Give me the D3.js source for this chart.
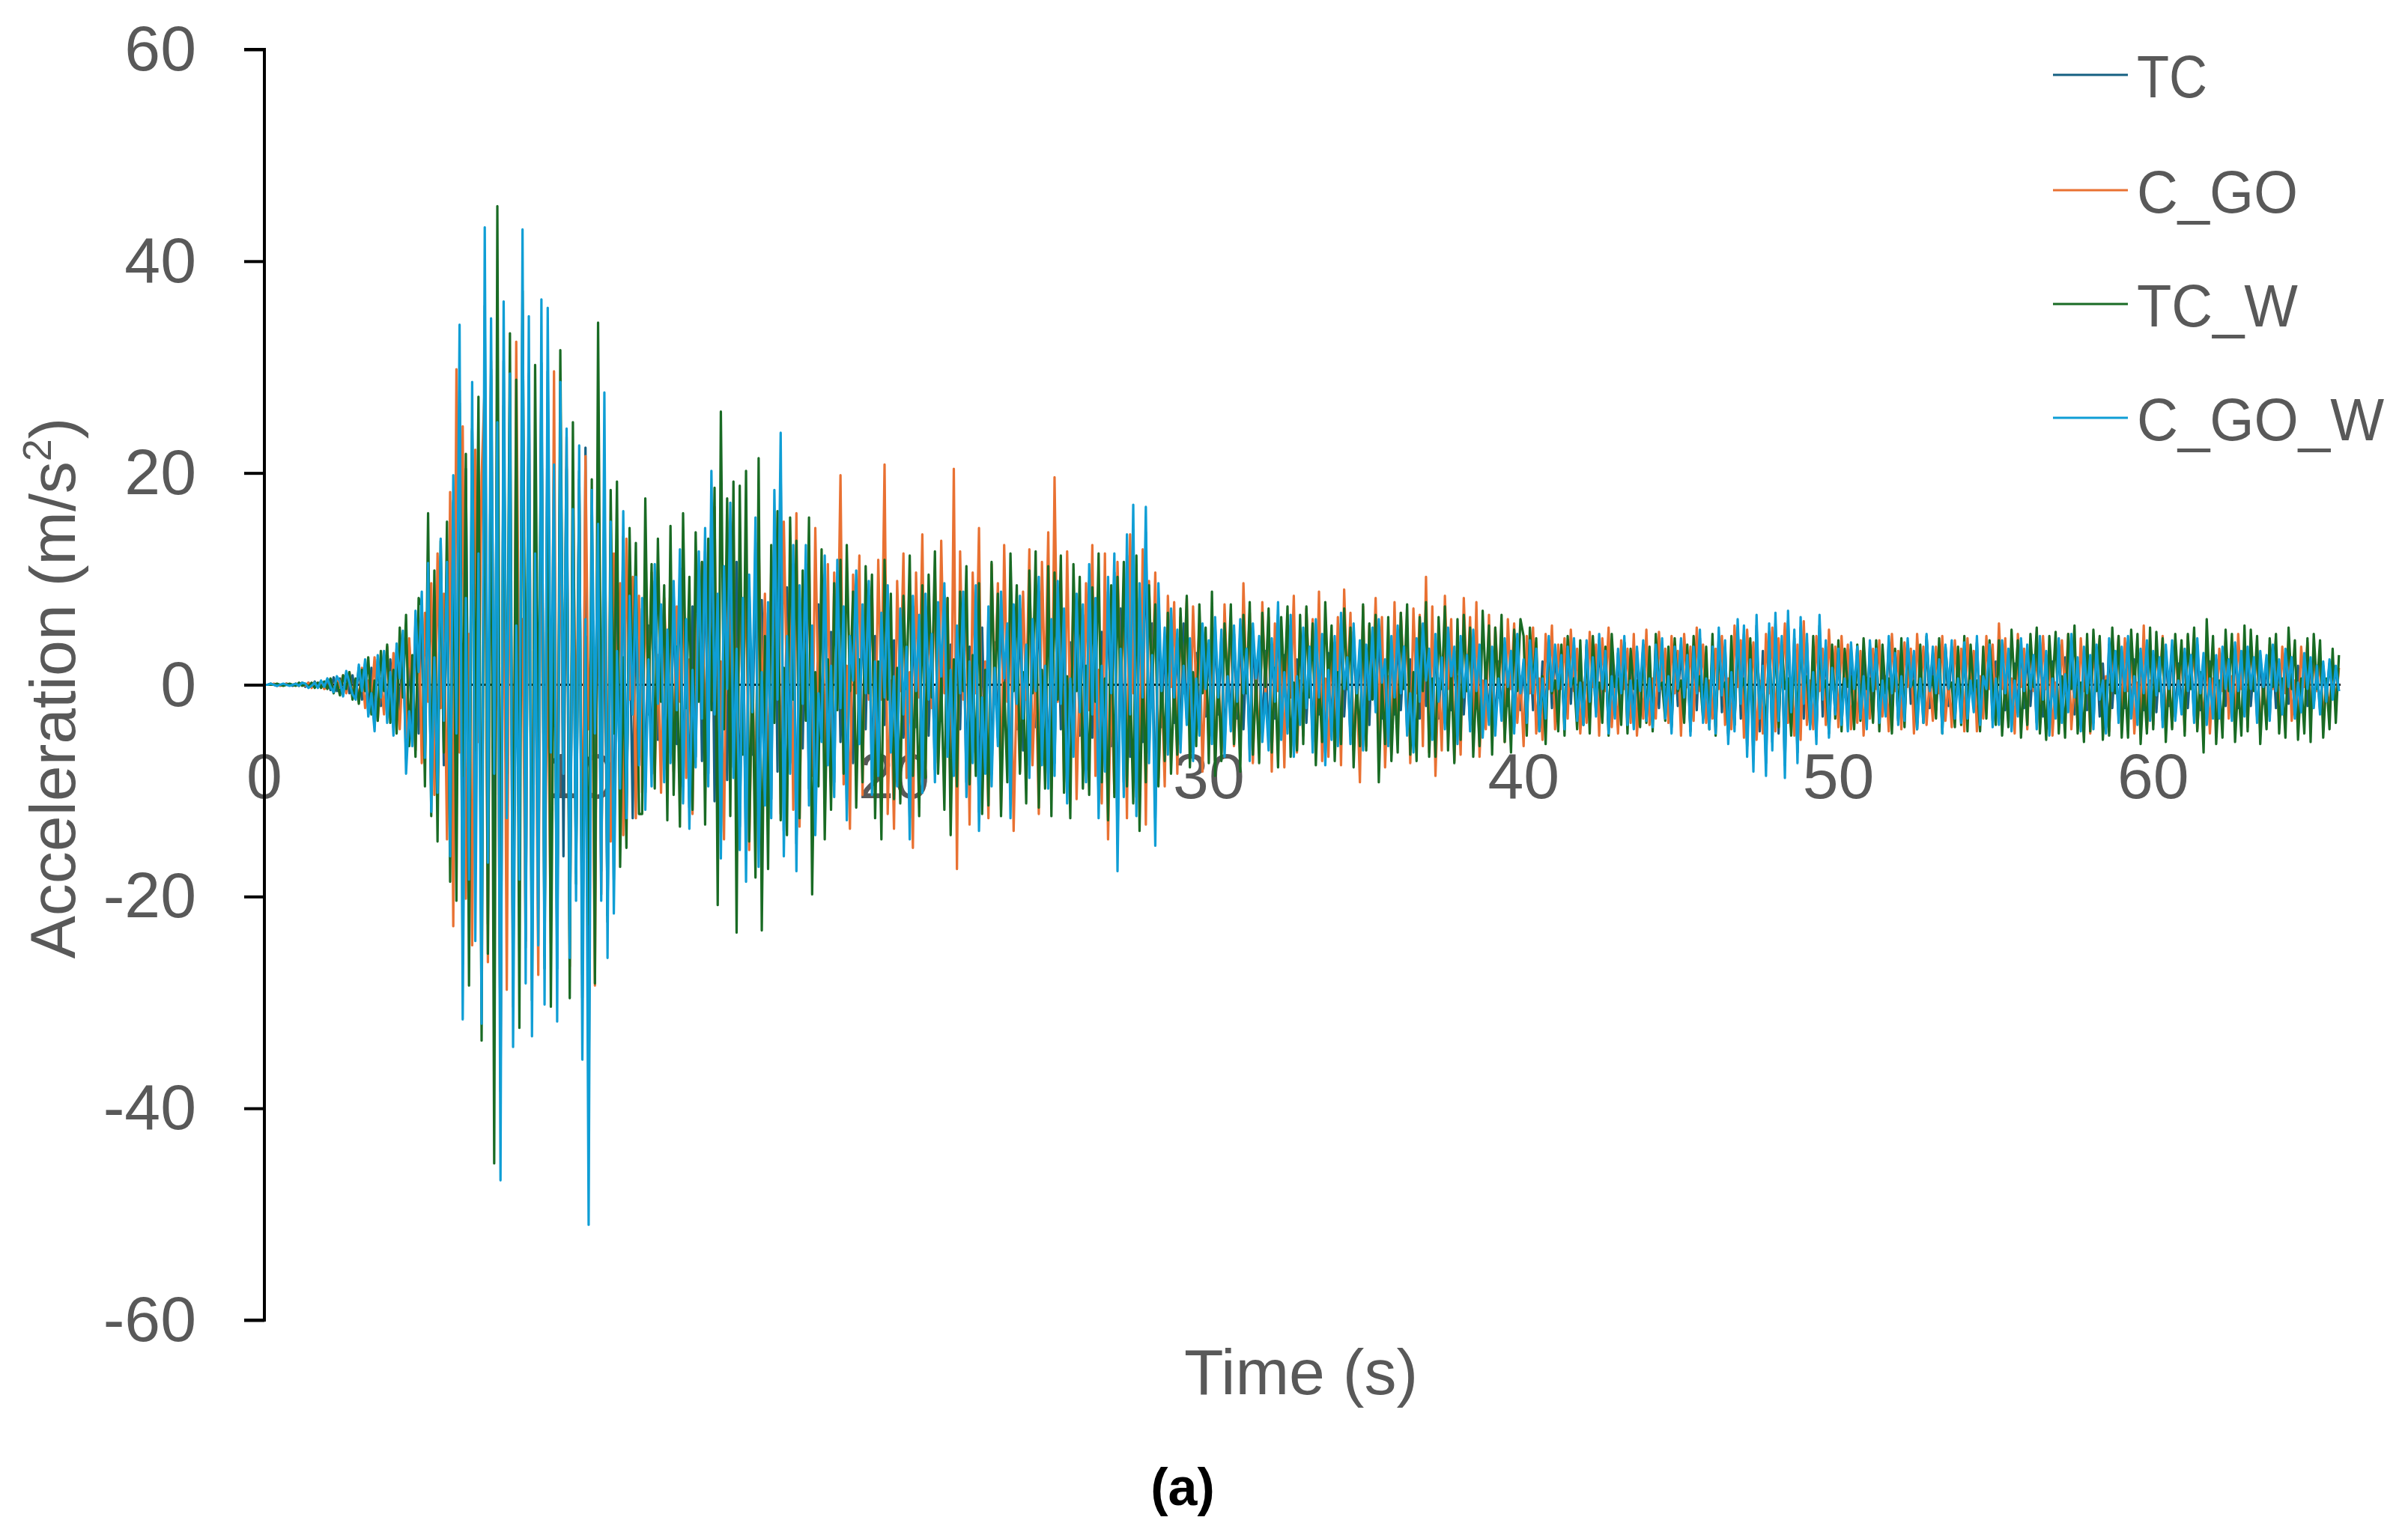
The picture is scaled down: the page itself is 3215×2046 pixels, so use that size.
<!DOCTYPE html>
<meta charset="utf-8" />
<title>Acceleration time histories</title>
<script src="https://d3js.org/d3.v7.min.js"></script>
<style>
  body { margin: 0; background: #fff; }
  text { font-family: "Liberation Sans", Arial, sans-serif; }
</style>
<div id="chart"></div>

<script>
  // Sampled acceleration records (m/s^2), one value every 0.1 s from t = 0,
  // one row per second. Read off the reference figure.
  var sampleStep = 0.1;

  var TC = [
    0,0,0.1,0,-0.1,0,0,0.1,0,-0.1,
    0.1,-0.1,0.2,-0.2,0.2,-0.2,0.3,-0.2,0.3,-0.3,
    0.5,-0.5,0.7,-0.6,0.6,-0.9,1.1,-0.8,0.9,-1.2,
    1.6,-1.4,2.0,-2.6,1.6,-3.6,2.4,-2.0,2.8,-3.0,
    2.4,-4.0,3.4,-2.8,4.4,-7.0,3.8,-5.0,6.0,-4.6,
    7.6,-6.0,10.2,-10.4,6.8,-9.0,12.2,-7.6,10.2,-14.0,
    17.2,-12.0,27.8,-26.4,20.4,-16.2,24.0,-12.6,19.2,-27.0,
    35.8,-22.6,29.2,-18.6,21.4,-38.4,30.6,-19.8,25.2,-28.6,
    22.0,-16.2,35.4,-24.2,29.2,-27.8,19.4,-21.2,30.4,-25.6,
    29.6,-22.4,18.2,-26.8,24.2,-16.2,20.6,-22.0,14.6,-17.8,
    19.4,-29.6,22.4,-41.2,16.0,-21.0,13.4,-17.6,11.0,-21.8,
    13.2,-18.4,9.8,-8.6,14.0,-11.0,7.4,-12.6,8.8,-6.8,
    7.2,-10.2,5.6,-8.4,9.8,-5.2,6.6,-8.0,4.6,-6.4,
    8.4,-5.6,11.0,-9.6,5.4,-11.6,7.4,-6.8,10.8,-7.2,
    12.6,-8.4,17.0,-11.0,7.6,-14.0,9.8,-9.0,14.6,-7.8,
    11.6,-13.4,7.2,-15.8,9.0,-6.6,13.4,-14.6,8.0,-9.8,
    6.8,-10.8,15.6,-8.2,20.0,-13.8,9.2,-7.4,11.4,-15.0,
    8.2,-6.0,11.4,-9.8,5.0,-12.2,7.6,-4.8,10.4,-6.6,
    5.0,-9.2,10.2,-5.4,6.4,-11.0,4.0,-7.4,9.4,-4.8,
    6.6,-4.2,8.4,-9.0,4.6,-7.4,5.8,-3.8,8.2,-5.6,
    4.2,-8.4,6.2,-5.0,3.2,-12.6,7.4,-4.0,5.8,-8.8,
    7.4,-4.8,4.2,-8.0,6.8,-3.4,8.4,-6.0,3.8,-7.4,
    4.8,-4.2,7.6,-9.2,3.6,-6.4,8.2,-12.0,5.4,-7.2,
    6.4,-8.4,4.0,-5.0,7.6,-3.2,5.0,-10.8,6.6,-4.2,
    7.2,-6.2,3.4,-7.6,5.4,-4.0,8.8,-6.6,4.2,-8.4,
    5.4,-7.4,8.4,-4.2,6.2,-9.6,4.0,-5.8,7.4,-4.8,
    6.6,-8.0,9.8,-5.0,7.0,-10.8,5.0,-7.0,8.8,-5.8,
    10.6,-15.0,7.2,-9.2,12.2,-6.8,14.6,-10.6,8.2,-5.4,
    14.4,-6.4,5.8,-12.6,8.2,-4.0,4.6,-5.6,6.2,-3.6,
    4.4,-5.6,5.8,-3.2,3.8,-6.2,3.0,-4.2,5.0,-3.0,
    3.6,-4.8,5.4,-2.8,4.4,-5.8,2.4,-3.8,4.8,-3.2,
    5.2,-4.2,3.0,-6.2,5.0,-2.2,4.0,-4.6,3.2,-5.4,
    3.8,-3.2,6.6,-4.4,2.8,-4.0,5.6,-5.8,2.4,-3.2,
    4.6,-3.6,3.0,-5.4,5.2,-2.8,4.2,-6.4,3.0,-4.4,
    4.0,-5.0,5.8,-3.0,2.2,-4.8,5.0,-2.4,3.6,-5.2,
    3.2,-3.8,4.6,-2.2,5.2,-3.2,2.0,-5.0,4.0,-2.8,
    4.8,-2.4,3.2,-4.2,2.4,-5.4,3.8,-3.2,5.0,-2.0,
    3.0,-4.4,4.2,-3.2,2.2,-3.6,4.6,-2.4,3.2,-4.8,
    4.0,-2.8,2.4,-3.8,4.4,-2.2,3.2,-4.2,2.0,-3.2,
    3.2,-4.0,2.2,-3.0,3.8,-2.0,2.8,-4.0,4.2,-2.4,
    2.0,-3.2,3.6,-2.4,3.0,-3.8,2.2,-2.8,4.0,-2.2,
    3.2,-2.0,2.4,-3.6,3.0,-1.8,3.8,-3.0,1.8,-3.2,
    3.6,-3.2,2.2,-2.6,4.2,-2.0,2.8,-4.0,2.4,-2.8,
    3.0,-2.4,4.0,-3.2,2.0,-3.6,3.2,-2.2,3.6,-3.0,
    2.2,-3.4,3.2,-2.2,3.8,-2.8,2.4,-4.0,3.0,-2.0,
    3.8,-2.8,2.4,-4.2,3.0,-2.4,4.4,-3.0,2.2,-3.6,
    3.0,-4.0,4.6,-2.6,3.6,-4.8,2.8,-3.8,5.4,-3.2,
    4.8,-5.8,3.8,-7.0,5.6,-4.4,3.2,-7.4,5.0,-5.4,
    5.8,-4.6,4.0,-7.6,6.0,-4.0,4.4,-6.4,5.4,-3.2,
    4.0,-3.6,2.8,-4.8,5.6,-3.0,3.6,-4.2,3.0,-2.4,
    3.0,-3.2,2.2,-3.8,3.4,-2.0,3.0,-2.8,2.4,-3.6,
    3.6,-2.2,3.0,-3.0,2.0,-2.6,4.0,-2.4,2.6,-3.2,
    2.4,-3.0,3.8,-1.8,2.8,-3.6,2.2,-3.0,4.2,-2.2,
    3.0,-2.4,2.0,-4.0,3.2,-2.0,3.6,-2.8,2.2,-3.0,
    3.4,-2.8,3.0,-2.2,4.0,-3.2,2.4,-2.0,3.2,-3.4,
    2.2,-3.2,3.6,-2.4,3.0,-3.8,2.0,-2.6,3.8,-2.2,
    3.2,-2.0,2.4,-3.6,4.0,-3.0,2.8,-4.2,2.2,-2.8,
    3.8,-3.0,2.6,-2.2,4.2,-2.8,2.2,-3.8,3.0,-2.4,
    2.4,-3.6,3.2,-3.0,2.0,-4.0,3.8,-2.2,2.8,-3.0,
    3.0,-2.2,4.0,-2.8,2.4,-3.2,3.0,-2.4,3.6,-3.0,
    2.8,-2.6,2.2,-3.4,3.2,-2.0,3.6,-3.0,2.0,-2.4,
    3.0,-2.2,2.4,-3.0,3.8,-2.4,2.6,-3.2,2.2,-2.8,
    2.4,-2.8,3.0,-2.0,2.0,-3.0,3.4,-2.2,2.8,-2.6,
    3.0,-2.0,2.2,-3.0,2.8,-1.8,2.4,-3.0,3.2,-2.2,
    2.0,-2.4,3.0,-1.8,2.2,-2.8,1.8,-2.2,2.6,-2.0,
    2.2,-1.8,1.6,-2.4,1.8,-1.4,2.0,-1.2,1.6,-0.6
  ];

  var C_GO = [
    0,0,0,0.1,0,-0.1,0,0.1,0,0,
    0.1,-0.1,0.2,-0.1,0.2,-0.3,0.2,-0.2,0.3,-0.4,
    -0.2,0.5,-0.6,0.7,-0.2,0.9,-0.8,1.2,-1.0,0.3,
    -1.3,1.6,-2.2,0.4,-1.4,2.6,-3.4,0.6,-2.8,3.6,
    -2.4,3.0,-0.8,-4.2,2.4,-5.0,4.4,-1.2,-6.2,6.0,
    -7.4,6.8,-1.6,9.6,-10.4,12.4,-2.2,8.6,-14.6,18.2,
    -22.8,29.8,-6.4,24.4,-20.2,4.8,-24.6,22.2,-5.4,19.8,
    28.4,-26.2,30.6,-8.2,6.8,-35.2,18.4,-28.8,22.6,-30.4,
    32.4,-4.6,6.2,-24.8,29.4,-20.6,8.6,-27.4,27.2,-22.2,
    4.8,-24.4,29.6,-22.6,20.2,-8.4,23.4,-26.6,19.2,-7.2,
    18.6,-21.4,21.6,-4.2,6.4,-28.4,22.4,-19.8,17.6,-6.2,
    -14.8,12.4,-2.8,9.6,-14.2,13.8,-1.4,10.2,-12.6,8.4,
    -10.2,9.2,-1.6,10.6,-8.4,2.8,-10.2,8.2,-0.6,9.8,
    -8.2,7.4,-1.6,11.2,-8.8,2.4,-12.2,6.6,-0.4,11.6,
    -7.2,12.2,-1.6,16.8,-13.4,2.2,-14.6,13.8,-1.2,15.4,
    -11.6,10.6,-3.2,11.8,-15.6,1.4,-12.4,14.2,-2.8,8.6,
    -10.8,11.2,-1.4,13.6,-12.2,15.4,-0.6,9.8,-11.8,16.2,
    -13.4,8.4,-2.2,12.6,-8.6,14.8,-2.4,9.2,-7.8,11.4,
    -9.6,10.6,-0.2,19.8,-9.4,1.8,-13.6,10.4,-0.8,12.2,
    -10.4,8.6,-1.4,9.2,-7.6,11.8,-1.4,20.8,-12.2,0.4,
    -13.6,9.8,-0.6,12.4,-8.8,1.2,-15.4,10.6,-1.2,14.2,
    -8.6,7.6,-2.2,10.8,-7.4,13.6,-0.8,8.2,-11.6,20.4,
    -17.4,12.6,-1.4,8.4,-13.2,10.6,-0.8,14.8,-10.4,2.2,
    -12.6,11.4,-0.6,9.6,-11.8,13.2,-1.6,7.4,-13.8,0.6,
    -8.2,8.8,-1.4,12.8,-7.6,1.4,-12.2,11.6,-0.8,14.4,
    -9.8,19.6,-1.6,10.2,-9.2,12.6,-3.4,8.6,-10.8,1.4,
    -8.4,9.6,-2.4,13.2,-8.6,1.4,-11.2,12.4,-14.6,0.8,
    -10.2,11.6,-0.4,8.4,-12.6,14.2,-0.8,9.6,-8.6,12.8,
    -13.2,9.8,-1.4,10.6,-8.8,0.6,-9.6,8.4,-0.2,7.8,
    -8.4,6.4,-0.8,8.2,-5.6,7.4,-0.6,5.8,-8.2,1.6,
    -5.4,5.6,-7.2,0.8,-6.4,7.6,-0.6,6.2,-5.8,0.4,
    -6.8,9.6,-0.4,6.8,-7.4,1.2,-6.2,7.8,-0.8,6.4,
    -8.2,5.8,-0.6,4.6,-7.8,6.6,-1.2,8.4,-6.4,0.4,
    -4.8,7.2,-0.8,6.2,-4.6,8.8,-7.2,0.6,-6.8,4.4,
    -5.6,6.4,-7.6,9.0,-0.4,6.8,-6.2,0.2,-9.2,7.4,
    -5.8,5.6,-0.4,8.2,-4.6,6.4,-7.8,0.8,-6.6,7.8,
    -5.2,6.8,-0.2,5.4,-7.4,7.2,-0.8,6.6,-5.8,10.2,
    -6.4,7.4,-8.6,0.6,-6.2,8.4,-0.4,6.2,-7.2,0.8,
    -6.6,8.2,-0.6,6.4,-4.8,7.8,-6.8,0.4,-4.2,6.6,
    -5.2,5.4,-0.2,4.6,-5.4,6.2,-0.4,5.8,-3.6,0.8,
    -5.8,4.6,-0.8,5.4,-4.6,0.6,-5.2,4.8,-0.4,5.6,
    -4.2,3.8,-0.4,4.4,-3.2,5.2,-0.6,3.4,-4.6,0.2,
    -3.6,5.0,-0.2,3.8,-4.8,4.4,-0.6,5.4,-4.0,0.8,
    -4.6,4.2,-0.4,3.4,-3.6,4.8,-4.8,0.2,-3.2,5.2,
    -3.8,0.6,-3.2,5.0,-0.4,3.4,-3.6,4.6,-0.8,3.2,
    -4.8,4.8,-0.2,3.6,-3.4,5.4,-0.6,3.8,-3.6,0.4,
    -3.2,3.4,-0.4,4.6,-3.8,0.6,-4.2,5.6,-0.2,4.2,
    -5.0,5.2,-0.6,4.0,-5.2,0.4,-4.6,4.8,-0.8,5.4,
    -4.4,4.4,-0.2,5.8,-3.6,0.6,-4.8,3.8,-5.2,6.0,
    -3.8,0.4,-4.2,4.6,-0.6,3.4,-3.8,5.2,-0.4,3.6,
    -4.0,4.6,-0.8,3.8,-4.2,0.2,-3.6,3.2,-4.8,0.6,
    -3.2,3.4,-0.4,4.2,-3.0,0.8,-4.4,4.8,-0.6,3.2,
    -4.2,4.0,-0.2,3.4,-4.6,4.8,-0.4,3.6,-3.8,0.6,
    -3.4,3.6,-0.8,4.6,-3.4,0.4,-4.0,4.2,-0.2,3.4,
    -4.4,4.4,-0.6,3.2,-4.4,0.8,-3.2,4.6,-0.4,3.8,
    -3.0,5.8,-0.4,4.4,-3.4,0.6,-4.6,4.8,-0.2,3.4,
    -4.2,3.8,-0.6,3.2,-3.6,4.6,-0.4,3.4,-4.8,0.2,
    -3.4,4.2,-0.8,4.8,-4.2,0.4,-3.6,4.4,-0.6,3.8,
    -4.6,3.6,-0.2,4.4,-3.2,0.8,-4.4,3.2,-0.4,4.6,
    -3.2,4.4,-0.6,3.6,-4.6,0.2,-3.4,5.6,-4.2,0.4,
    -3.8,3.8,-0.4,4.6,-3.6,0.6,-4.0,4.2,-0.8,3.6,
    -4.4,4.6,-0.2,3.8,-4.2,0.4,-3.6,3.2,-4.6,0.6,
    -3.2,3.4,-0.6,4.2,-3.2,0.8,-4.2,4.8,-0.4,3.4,
    -4.0,4.0,-0.2,3.4,-4.4,0.6,-3.6,3.8,-0.4,3.2,
    -3.6,3.6,-0.8,4.2,-3.4,0.4,-4.2,3.6,-0.2,4.0,
    -3.4,3.2,-0.6,2.6,-3.4,0.4,-2.6,2.2,-1.8,1.6
  ];

  var TC_W = [
    0,0,0,0,0.1,0,-0.1,0,0.1,0,
    -0.1,0.2,-0.1,0.1,-0.2,0.2,-0.3,0.2,-0.3,0.3,
    -0.4,0.6,-0.8,0.2,-1.0,0.9,-0.4,1.2,-1.4,0.6,
    -1.8,1.4,-0.6,2.6,-2.8,0.4,-3.4,3.2,-0.6,3.8,
    -3.6,1.4,-4.6,5.4,-1.2,6.6,-5.8,2.8,-6.8,8.2,
    7.4,-9.6,16.2,-12.4,10.8,-14.8,13.6,-6.4,15.4,-18.6,
    17.4,-20.4,26.6,-8.6,21.8,-28.4,24.2,-6.2,27.2,-33.6,
    32.6,-25.4,29.8,-45.2,45.2,-30.6,26.4,-8.4,33.2,-28.2,
    28.8,-32.4,37.2,-6.6,24.8,-29.8,30.2,-8.6,28.4,-26.8,
    26.6,-30.4,10.4,-24.2,31.6,-6.2,20.4,-29.6,24.8,-18.8,
    20.2,-27.4,4.6,-22.6,19.4,-28.2,34.2,-8.4,16.8,-22.4,
    18.4,-4.6,19.2,-17.2,2.6,-15.4,14.8,-1.6,13.4,-12.2,
    -12.2,17.6,-2.8,11.4,-9.8,13.8,-1.6,9.4,-12.8,15.0,
    -10.4,3.6,-13.4,16.2,-2.2,10.2,-11.8,14.4,-1.6,11.6,
    -13.2,13.8,-2.4,18.6,-20.8,25.8,-4.2,17.6,-12.4,19.2,
    -23.4,18.8,-6.6,20.2,-14.8,2.4,-18.2,21.4,-23.2,4.6,
    -17.4,13.2,-3.6,16.4,-12.8,1.6,-14.2,15.8,-1.4,13.6,
    -12.6,10.8,-3.4,15.8,-19.8,1.2,-9.6,12.8,-14.6,2.4,
    -11.8,9.6,-2.4,11.8,-8.4,13.2,-0.6,8.8,-11.6,2.4,
    -9.2,11.2,-0.8,10.4,-12.6,2.2,-14.6,11.8,-1.4,8.6,
    -10.8,1.6,-11.2,8.4,-0.4,12.2,-8.6,1.8,-12.4,9.4,
    -8.8,10.4,-1.2,12.6,-8.4,0.6,-11.8,8.2,-14.2,2.4,
    -9.6,8.8,-0.6,11.2,-9.4,2.8,-8.6,9.6,-12.2,1.4,
    -11.4,11.6,-1.8,8.6,-12.4,0.2,-9.2,12.4,-0.6,9.4,
    -8.4,1.2,-11.2,10.8,-0.8,12.6,-11.6,1.4,-9.8,11.2,
    -12.4,10.6,-1.4,12.2,-10.2,0.8,-12.6,11.4,-0.6,10.2,
    -9.8,1.8,-10.4,9.2,-1.6,12.4,-9.2,0.6,-12.8,9.4,
    -10.6,10.2,-1.4,11.6,-9.6,0.8,-11.2,12.2,-13.8,1.4,
    -9.2,9.4,-0.2,7.6,-9.6,1.6,-7.2,6.8,-8.4,0.2,
    -6.6,7.2,-0.4,8.4,-7.8,1.2,-5.8,7.6,-0.8,5.4,
    -7.4,8.8,-8.6,1.4,-7.2,5.8,-0.4,7.6,-5.6,1.2,
    -8.2,6.6,-0.8,7.8,-6.6,0.4,-7.4,6.8,-0.2,7.2,
    -6.4,1.6,-7.8,6.4,-0.4,7.4,-6.8,0.2,-6.2,6.6,
    -5.6,7.4,-1.2,5.8,-7.6,0.4,-5.4,7.8,-0.6,5.6,
    -7.2,1.2,-5.6,7.2,-0.4,5.4,-7.8,0.6,-5.8,7.6,
    -6.2,5.8,-1.4,6.6,-9.2,0.2,-5.6,6.4,-7.2,0.6,
    -6.4,6.8,-0.4,7.6,-6.6,1.2,-7.2,6.4,-0.6,7.8,
    -6.8,0.6,-6.8,6.4,-0.4,7.4,-6.2,1.8,-7.4,6.2,
    -5.2,6.6,-0.6,5.4,-6.8,0.2,-5.8,7.0,-0.4,5.6,
    -6.6,5.4,-1.2,6.6,-5.4,0.8,-6.4,5.2,-0.6,6.2,
    4.6,-4.8,5.4,-0.2,4.4,-4.4,0.8,-5.6,4.2,-0.8,
    0.4,-4.4,3.8,-4.8,4.6,-0.2,0.6,-4.2,4.2,-3.8,
    3.8,-4.6,4.6,-0.4,0.2,-3.6,3.6,-4.8,4.8,-0.2,
    0.6,-3.8,4.0,-4.6,3.4,-0.4,0.4,-4.0,3.8,-3.6,
    3.6,-4.4,4.8,-0.2,0.2,-3.4,3.6,-3.8,4.4,-0.6,
    0.4,-3.6,3.8,-4.4,4.6,-0.6,0.8,-3.2,3.6,-4.2,
    4.8,-4.8,3.4,-0.4,0.2,-4.6,4.6,-3.8,3.8,-0.4,
    0.6,-4.2,4.4,-4.6,3.4,-0.8,0.2,-4.4,4.2,-3.6,
    4.4,-4.0,3.8,-0.4,0.6,-4.8,3.4,-3.6,4.0,-0.2,
    0.8,-3.8,4.6,-4.2,3.6,-0.6,0.4,-4.6,3.8,-3.2,
    4.2,-4.4,3.4,-0.2,0.8,-4.2,3.8,-3.4,4.4,-0.4,
    0.6,-3.6,4.2,-4.4,3.8,-0.8,0.6,-4.6,3.4,-3.4,
    4.4,-4.0,3.6,-0.2,0.4,-4.2,3.8,-3.6,4.6,-0.4,
    0.8,-3.2,4.4,-4.6,3.6,-0.4,0.2,-4.0,3.6,-3.8,
    4.6,-4.4,3.8,-0.6,0.4,-4.4,3.6,-3.2,4.2,-0.2,
    -3.8,4.2,-4.8,0.6,-4.0,5.2,-0.4,4.2,-5.0,0.8,
    -3.8,4.8,-0.2,5.4,-4.6,0.6,-5.2,4.6,-0.4,5.0,
    -4.6,0.8,-5.0,4.8,-0.4,5.6,-4.6,0.2,-5.4,4.8,
    -4.4,5.2,-0.6,4.6,-5.2,0.4,-4.8,5.4,-0.8,4.6,
    -5.0,0.6,-5.0,5.2,-0.4,4.8,-5.6,0.2,-4.6,5.4,
    -4.2,5.0,-0.6,4.4,-5.4,0.8,-4.2,4.8,-0.2,4.2,
    -4.8,4.8,-0.4,5.4,-4.4,1.2,-6.4,6.2,-0.8,4.6,
    -5.6,0.4,-5.0,5.2,-0.6,4.8,-5.4,0.2,-4.8,5.6,
    -4.4,5.2,-0.6,4.6,-5.6,0.4,-4.2,4.4,-0.2,4.8,
    -4.6,0.6,-5.0,5.4,-0.4,4.2,-5.2,0.6,-4.6,4.4,
    -5.4,4.8,-0.4,4.2,-5.0,0.6,-4.2,3.4,-3.6,2.8
  ];

  var C_GO_W = [
    0,0,0.1,0,-0.1,0,0.1,0,-0.1,0,
    0.1,-0.1,0.2,0.1,-0.3,-0.1,0.2,-0.3,0.4,-0.2,
    0.6,-0.2,-0.7,0.8,0.3,-1.1,1.3,0.2,-0.9,-1.4,
    1.9,-0.6,2.4,-3.0,-0.8,-4.4,2.8,-1.2,3.2,-3.6,
    1.2,-4.8,3.9,0.6,5.1,-8.4,-2.5,-5.8,7.0,1.2,
    8.8,-6.9,11.5,-12.0,2.6,-10.2,13.8,-3.4,11.6,-16.2,
    19.8,-4.6,34.0,-31.6,8.2,-18.4,28.6,-24.2,12.4,-32.0,
    43.2,-16.8,34.6,-8.4,24.8,-46.8,36.2,-12.6,29.4,-34.2,
    5.6,-18.4,43.0,-28.2,34.8,-33.2,12.4,-24.6,36.4,-30.2,
    35.6,-6.4,20.8,-31.8,28.6,-8.4,24.2,-25.8,16.6,-20.4,
    22.6,-35.4,6.2,-51.0,18.4,-4.6,15.2,-20.4,27.6,-25.8,
    15.4,-21.6,3.2,-9.8,16.4,-12.6,8.4,-2.8,10.2,-7.6,
    8.2,-11.8,2.4,-9.6,11.4,-1.8,7.6,-9.2,5.2,-7.4,
    9.8,-2.4,12.8,-11.2,6.2,-13.6,1.4,-7.8,12.6,-3.2,
    14.8,-9.6,20.2,-2.8,8.6,-16.4,11.2,-0.4,17.2,-8.8,
    3.4,-15.6,8.2,-18.6,10.4,-2.6,15.8,-17.2,1.2,-11.4,
    7.8,-12.6,18.4,-1.4,23.8,-16.2,4.6,-8.4,13.2,-17.6,
    9.4,-1.8,13.2,-11.4,5.6,-14.2,-0.8,-5.4,12.2,-7.6,
    1.8,-10.6,11.8,-2.2,7.4,-12.8,4.6,0.4,10.8,-5.6,
    7.6,-0.8,9.8,-10.4,2.2,-8.6,6.8,-1.2,9.4,-6.4,
    0.8,-9.6,7.2,-2.8,3.6,-14.6,8.4,-0.6,6.6,-10.2,
    8.6,-1.4,4.8,-9.2,7.8,0.8,9.6,-6.8,1.4,-8.6,
    5.6,-0.8,8.8,-10.6,2.2,-7.4,9.4,-13.8,-1.2,-8.4,
    7.4,-9.6,1.6,-5.8,8.8,0.6,5.8,-12.6,7.6,-1.8,
    8.4,-3.2,3.8,-8.8,6.2,-0.6,10.2,-7.6,1.8,-9.8,
    6.2,-8.6,9.8,-1.8,7.2,-11.2,0.6,-6.8,8.6,-2.6,
    7.6,-9.2,11.4,-2.8,8.2,-12.6,1.8,-8.2,10.2,-0.8,
    12.4,-17.6,3.4,-10.6,14.2,-2.8,17.0,-12.4,9.6,-1.2,
    16.8,-7.4,2.8,-15.2,9.6,-0.6,5.4,-6.6,7.2,-1.2,
    5.2,-6.4,1.8,-3.8,4.4,-7.2,0.6,-4.8,5.8,-0.4,
    4.2,-5.6,6.4,-1.2,5.2,-6.8,0.8,-4.4,5.6,-1.6,
    6.2,-0.8,3.4,-7.2,5.8,0.6,4.6,-5.4,-0.8,-6.2,
    4.4,-1.6,7.8,-5.2,1.2,-4.6,6.6,-6.8,0.8,-3.8,
    5.4,-2.2,3.6,-6.4,6.2,-1.2,4.8,-7.6,1.4,-5.2,
    4.6,-5.8,6.8,-0.4,2.6,-5.6,5.8,-0.8,4.2,-6.2,
    3.8,-1.4,5.4,-2.6,6.2,0.2,2.4,-5.8,4.6,-1.2,
    5.6,-0.8,3.6,-4.8,-0.8,-6.4,4.4,-1.6,5.8,0.4,
    3.4,-5.2,4.8,-1.6,2.6,-4.2,5.4,0.8,3.6,-5.6,
    4.6,-1.2,2.8,-4.4,5.2,-0.6,3.8,-5.0,0.4,-3.8,
    3.6,-4.8,0.6,-3.4,4.4,-0.2,3.2,-4.6,4.8,-0.8,
    2.4,-3.6,4.2,-0.8,3.4,-4.4,0.6,-3.2,4.6,-0.6,
    3.8,-0.4,2.8,-4.2,3.6,-0.2,4.4,-3.4,0.2,-3.8,
    4.2,-1.6,2.6,-3.0,4.8,-0.4,3.2,-4.6,0.8,-3.2,
    3.4,-0.8,4.6,-3.8,0.4,-4.2,3.6,-0.6,4.2,-3.4,
    0.6,-4.0,3.8,-0.6,4.4,-3.2,0.8,-4.6,3.6,-0.4,
    4.4,-1.2,2.8,-4.8,3.6,-0.8,5.2,-3.6,0.6,-4.2,
    3.6,-4.6,5.4,-1.0,4.2,-5.6,1.2,-4.4,6.2,-1.8,
    5.6,-6.8,2.4,-8.2,6.6,-3.2,1.8,-8.6,5.8,-6.2,
    6.8,-3.4,4.6,-8.8,7.0,-2.6,5.2,-7.4,6.4,-1.8,
    4.8,-4.2,1.2,-5.6,6.6,-1.4,4.2,-5.0,1.6,-2.8,
    3.4,-3.8,0.6,-4.4,4.0,-0.4,3.6,-3.2,0.8,-4.2,
    4.2,-0.6,3.4,-3.6,0.4,-3.0,4.6,-0.8,3.0,-3.8,
    0.8,-3.4,4.4,-0.2,3.2,-4.2,0.6,-3.6,4.8,-0.6,
    3.6,-0.8,2.4,-4.6,3.8,-0.4,4.2,-3.2,0.6,-3.6,
    4.0,-3.2,0.4,-2.6,4.6,-3.8,0.8,-0.4,3.8,-4.0,
    0.6,-3.8,4.2,-0.8,3.4,-4.4,0.4,-3.0,4.4,-0.6,
    3.8,-0.4,2.8,-4.2,4.6,-1.4,3.2,-4.8,0.6,-3.2,
    4.4,-3.6,1.0,-2.6,4.8,-1.2,2.6,-4.4,3.6,-0.8,
    2.8,-4.2,3.8,-1.4,0.4,-4.6,4.4,-0.6,3.2,-3.6,
    3.6,-0.6,4.6,-3.2,0.8,-3.8,3.4,-0.8,4.2,-3.4,
    3.2,-1.0,2.6,-4.0,3.8,-0.4,4.2,-3.4,0.4,-2.8,
    3.4,-0.6,2.8,-3.6,4.4,-0.8,3.0,-3.8,0.6,-3.2,
    2.8,-3.2,3.6,-0.4,2.4,-3.4,4.0,-0.6,3.2,-3.0,
    3.6,-0.4,2.6,-3.6,3.2,-0.2,2.8,-3.4,3.8,-0.6,
    2.4,-2.8,3.4,-0.2,2.6,-3.2,0.2,-2.6,3.0,-0.4,
    2.6,-2.2,1.8,-2.8,2.2,-1.6,2.4,-1.4,1.8,-0.6
  ];

  var seriesNames  = ['TC', 'C_GO', 'TC_W', 'C_GO_W'];
  var seriesValues = [TC, C_GO, TC_W, C_GO_W];
  var seriesColors = ['#156082', '#E97132', '#196B24', '#0F9ED5'];
  var yTicks = [60, 40, 20, 0, -20, -40, -60];
  var xTicks = [0, 10, 20, 30, 40, 50, 60];

  var W = 3215, H = 2046;
  var textGrey = '#595959';

  var svg = d3.select('#chart').append('svg')
    .attr('width', W)
    .attr('height', H);

  var x = d3.scaleLinear().domain([0, 66]).range([353, 3127]);
  var y = d3.scaleLinear().domain([-60, 60]).range([1763, 66]);

  // x axis line sits at zero, behind the traces
  svg.append('line')
    .attr('x1', x(0)).attr('x2', x(65.95))
    .attr('y1', y(0)).attr('y2', y(0))
    .attr('stroke', '#000').attr('stroke-width', 3);

  // x tick labels, hanging below the zero line
  svg.append('g').selectAll('text')
    .data(xTicks).enter().append('text')
    .attr('x', function(d) { return x(d); })
    .attr('y', y(0) + 151)
    .attr('text-anchor', 'middle')
    .attr('font-size', 86)
    .attr('fill', textGrey)
    .text(function(d) { return d; });

  // the traces, first series at the bottom
  var line = d3.line()
    .x(function(d, i) { return x(i * sampleStep); })
    .y(function(d) { return y(d); });

  svg.append('g').selectAll('path')
    .data(seriesValues).enter().append('path')
    .attr('d', function(d) { return line(d); })
    .attr('fill', 'none')
    .attr('stroke', function(d, i) { return seriesColors[i]; })
    .attr('stroke-width', 3.2)
    .attr('stroke-linejoin', 'round');

  // y axis with outward ticks, plain hyphen for negatives
  var yAxis = svg.append('g')
    .attr('transform', 'translate(' + x(0) + ',0)')
    .call(d3.axisLeft(y).tickValues(yTicks).tickSize(27).tickPadding(64)
      .tickFormat(function(d) { return String(d); }));
  yAxis.select('.domain').attr('stroke', '#000').attr('stroke-width', 4)
    .attr('d', 'M-27,' + y(60) + 'H0V' + y(-60) + 'H-27');
  yAxis.selectAll('.tick line').attr('stroke', '#000').attr('stroke-width', 4);
  yAxis.selectAll('.tick text')
    .attr('font-family', '"Liberation Sans", Arial, sans-serif')
    .attr('font-size', 86)
    .attr('fill', textGrey);

  // axis titles
  var yTitle = svg.append('text')
    .attr('transform', 'translate(100,919) rotate(-90)')
    .attr('text-anchor', 'middle')
    .attr('font-size', 86)
    .attr('fill', textGrey);
  yTitle.append('tspan').text('Acceleration (m/s');
  yTitle.append('tspan').attr('font-size', 54).attr('dy', -32).text('2');
  yTitle.append('tspan').attr('dy', 32).text(')');

  svg.append('text')
    .attr('x', 1737).attr('y', 1862)
    .attr('text-anchor', 'middle')
    .attr('font-size', 86)
    .attr('fill', textGrey)
    .text('Time (s)');

  svg.append('text')
    .attr('x', 1579).attr('y', 2010)
    .attr('text-anchor', 'middle')
    .attr('font-family', '"Liberation Serif", "Times New Roman", serif')
    .attr('font-weight', 'bold')
    .attr('font-size', 70)
    .attr('fill', '#000')
    .text('(a)');

  // legend, top right; labels squeezed to the original's narrower widths
  var legendRows  = [100, 254, 406, 558];
  var legendWidth = [94, 215, 215, 330];
  var legend = svg.append('g').selectAll('g')
    .data(seriesNames).enter().append('g')
    .attr('transform', function(d, i) { return 'translate(2741,' + legendRows[i] + ')'; });
  legend.append('line')
    .attr('x1', 0).attr('x2', 100)
    .attr('y1', 0).attr('y2', 0)
    .attr('stroke', function(d, i) { return seriesColors[i]; })
    .attr('stroke-width', 3);
  legend.append('text')
    .attr('x', 112).attr('y', 30)
    .attr('font-size', 80)
    .attr('textLength', function(d, i) { return legendWidth[i]; })
    .attr('lengthAdjust', 'spacingAndGlyphs')
    .attr('fill', textGrey)
    .text(function(d) { return d; });
</script>
